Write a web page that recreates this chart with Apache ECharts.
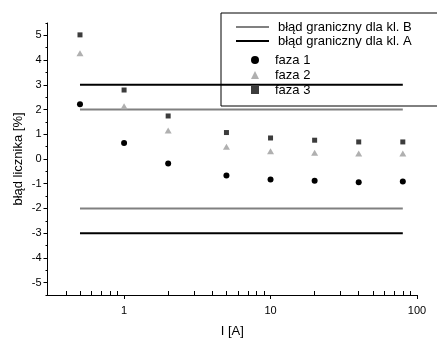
<!DOCTYPE html>
<html><head><meta charset="utf-8">
<script src="https://cdn.jsdelivr.net/npm/echarts@6/dist/echarts.min.js"></script>
<style>html,body{margin:0;padding:0;background:#fff}#c{width:437px;height:339px}</style>
</head><body><div id="c"></div>
<script>
const currents = [0.5, 1, 2, 5, 10, 20, 40, 80];
const faza1 = [2.21, 0.65, -0.18, -0.67, -0.83, -0.88, -0.94, -0.91];
const faza2 = [4.28, 2.13, 1.15, 0.50, 0.31, 0.25, 0.22, 0.22];
const faza3 = [5.02, 2.79, 1.74, 1.07, 0.85, 0.76, 0.69, 0.69];
const limitB = 2;
const limitA = 3;
const lineRange = [0.5, 80];
const xMajor = [1, 10, 100];
const xMinor = [0.4, 0.5, 0.6, 0.7, 0.8, 0.9, 2, 3, 4, 5, 6, 7, 8, 9, 20, 30, 40, 50, 60, 70, 80, 90];
const yMajor = [-5, -4, -3, -2, -1, 0, 1, 2, 3, 4, 5];
const yMinor = [-5.5, -4.5, -3.5, -2.5, -1.5, -0.5, 0.5, 1.5, 2.5, 3.5, 4.5, 5.5];
const names = ['błąd graniczny dla kl. B', 'błąd graniczny dla kl. A', 'faza 1', 'faza 2', 'faza 3'];

const FONT = 'Liberation Sans, Arial, sans-serif';
const chart = echarts.init(document.getElementById('c'), null, {renderer: 'canvas'});
const pts = arr => currents.map((x, i) => [x, arr[i]]);
const hline = v => lineRange.map(x => [x, v]);

const xBase = {
  type: 'log', logBase: 10, min: 0.3, max: 100,
  splitLine: {show: false}, minorTick: {show: false}, minorSplitLine: {show: false}
};
const yBase = {
  type: 'value', min: -5.5, max: 5.5,
  splitLine: {show: false}, minorTick: {show: false}
};

chart.setOption({
  animation: false,
  backgroundColor: '#fff',
  textStyle: {fontFamily: FONT},
  grid: {left: 47.5, right: 20, top: 23, bottom: 44, containLabel: false, outerBoundsMode: 'none'},
  xAxis: [
    Object.assign({}, xBase, {
      name: 'I [A]', nameLocation: 'middle', nameGap: 29.5,
      nameTextStyle: {color: '#000', fontSize: 13, fontFamily: FONT},
      axisLine: {show: true, onZero: false, lineStyle: {color: '#000', width: 1}},
      axisTick: {show: true, inside: false, length: 4, customValues: xMajor, lineStyle: {color: '#000'}},
      axisLabel: {show: true, customValues: xMajor, color: '#000', fontSize: 11, fontFamily: FONT, margin: 10}
    }),
    Object.assign({}, xBase, {
      position: 'bottom',
      axisLine: {show: false, onZero: false},
      axisTick: {show: true, inside: true, length: 4, customValues: xMinor, lineStyle: {color: '#000'}},
      axisLabel: {show: false}
    })
  ],
  yAxis: [
    Object.assign({}, yBase, {
      name: 'błąd licznika [%]', nameLocation: 'middle', nameGap: 23, nameRotate: 90, nameMoveOverlap: false,
      nameTextStyle: {color: '#000', fontSize: 13, fontFamily: FONT},
      axisLine: {show: true, onZero: false, lineStyle: {color: '#000', width: 1}},
      axisTick: {show: true, inside: false, length: 4, customValues: yMajor, lineStyle: {color: '#000'}},
      axisLabel: {show: true, customValues: yMajor, color: '#000', fontSize: 11, fontFamily: FONT, margin: 6}
    }),
    Object.assign({}, yBase, {
      position: 'left',
      axisLine: {show: false, onZero: false},
      axisTick: {show: true, inside: false, length: 2, customValues: yMinor, lineStyle: {color: '#000'}},
      axisLabel: {show: false}
    })
  ],
  legend: [
    {
      data: [names[0], names[1]], orient: 'vertical', left: 235, top: 20.5, padding: 0,
      itemWidth: 33, itemHeight: 12, itemGap: 1,
      itemStyle: {opacity: 0},
      textStyle: {color: '#000', fontSize: 13, fontFamily: FONT, padding: [0, 0, 0, 4]}
    },
    {
      data: [names[2], names[3], names[4]], orient: 'vertical', left: 251, top: 53.5, padding: 0,
      itemWidth: 8, itemHeight: 8, itemGap: 2,
      textStyle: {color: '#000', fontSize: 13, fontFamily: FONT, padding: [0, 0, 0, 11]}
    }
  ],
  graphic: [{
    type: 'rect', z: -1, left: 220.5, top: 12.5,
    shape: {width: 280, height: 93},
    style: {fill: '#fff', stroke: '#000', lineWidth: 1}
  }],
  series: [
    {name: names[0], type: 'line', data: hline(limitB), symbol: 'none', lineStyle: {color: '#808080', width: 2}, itemStyle: {color: '#808080'}, z: 2},
    {name: names[0], type: 'line', data: hline(-limitB), symbol: 'none', lineStyle: {color: '#808080', width: 2}, itemStyle: {color: '#808080'}, z: 2},
    {name: names[1], type: 'line', data: hline(limitA), symbol: 'none', lineStyle: {color: '#000', width: 2}, itemStyle: {color: '#000'}, z: 2},
    {name: names[1], type: 'line', data: hline(-limitA), symbol: 'none', lineStyle: {color: '#000', width: 2}, itemStyle: {color: '#000'}, z: 2},
    {name: names[2], type: 'scatter', data: pts(faza1), symbol: 'circle', symbolSize: 6, itemStyle: {color: '#000', opacity: 1}, z: 3},
    {name: names[3], type: 'scatter', data: pts(faza2), symbol: 'triangle', symbolSize: [7, 6], itemStyle: {color: '#b0b0b0', opacity: 1}, z: 3},
    {name: names[4], type: 'scatter', data: pts(faza3), symbol: 'rect', symbolSize: 5, itemStyle: {color: '#3c3c3c', opacity: 1}, z: 3}
  ]
});
</script></body></html>
